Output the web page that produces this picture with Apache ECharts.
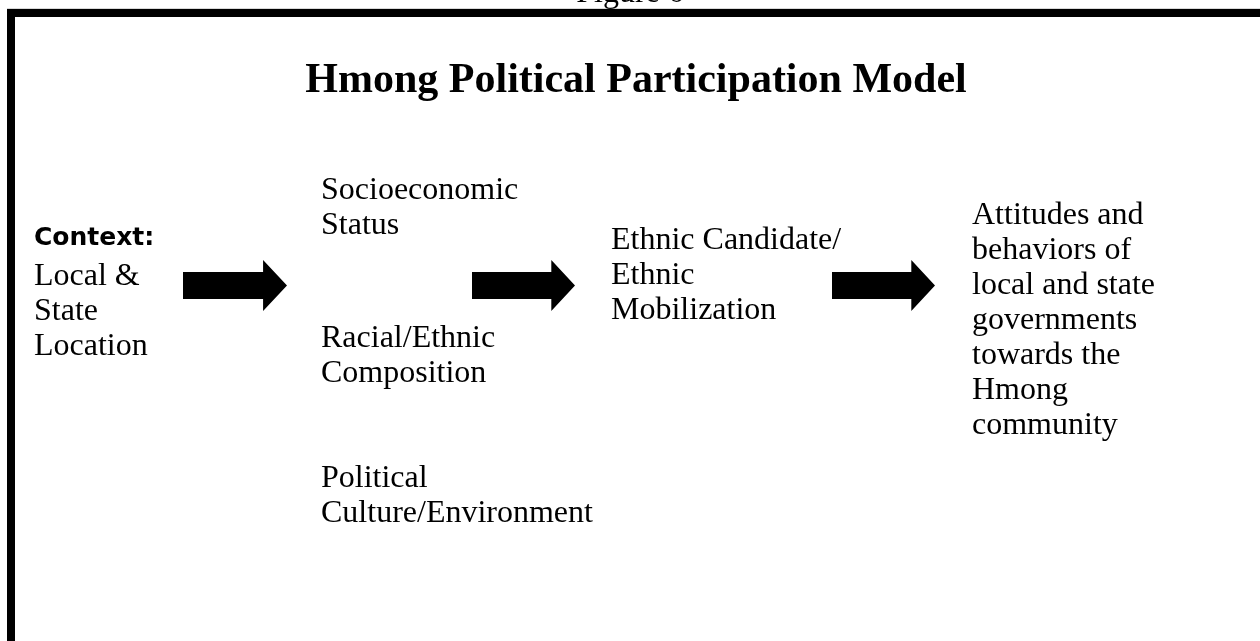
<!DOCTYPE html>
<html>
<head>
<meta charset="utf-8">
<script src="https://cdn.jsdelivr.net/npm/echarts@6/dist/echarts.min.js"></script>
<style>
  html, body { margin: 0; padding: 0; background: #fff; }
  #chart { width: 1260px; height: 641px; }
</style>
</head>
<body>
<div id="chart"></div>
<script>
// text of the diagram
const figureLabel = 'Figure 6';
const titleText = 'Hmong Political Participation Model';
const contextHead = 'Context:';
const contextLines = ['Local &', 'State', 'Location'];
const statusLines = ['Socioeconomic', 'Status'];
const compositionLines = ['Racial/Ethnic', 'Composition'];
const cultureLines = ['Political', 'Culture/Environment'];
const mobilizationLines = ['Ethnic Candidate/', 'Ethnic', 'Mobilization'];
const outcomeLines = ['Attitudes and', 'behaviors of', 'local and state', 'governments', 'towards the', 'Hmong', 'community'];

// arrows: tail and tip along the diagram x scale, centre line on y
const arrowTail = [183, 472, 832];
const arrowTip = [287, 575, 935];
const arrowY = [285.5, 285.5, 285.5];

const blocks = [contextLines, statusLines, compositionLines, cultureLines, mobilizationLines, outcomeLines];
// anchor (left, top) of each text block on the diagram scale
const blockX = [34, 321, 321, 321, 611, 972];
const blockTop = [259, 173, 321, 461, 223, 198];

const serif = '"Liberation Serif", "Times New Roman", serif';

let myChart = echarts.init(document.getElementById('chart'));

function renderArrow(params, api) {
  let a = api.coord([api.value(0), api.value(2)]);
  let b = api.coord([api.value(1), api.value(2)]);
  let neck = a[0] + (b[0] - a[0]) * 0.77;
  let shaft = 13.5, head = 25.5;
  return {
    type: 'polygon',
    shape: {
      points: [
        [a[0], a[1] - shaft], [neck, a[1] - shaft], [neck, a[1] - head],
        [b[0], a[1]],
        [neck, a[1] + head], [neck, a[1] + shaft], [a[0], a[1] + shaft]
      ]
    },
    style: { fill: '#000' }
  };
}

function renderBlock(params, api) {
  let p = api.coord([api.value(0), api.value(1)]);
  let lines = blocks[api.value(2)];
  return {
    type: 'text',
    x: p[0],
    y: p[1],
    style: {
      text: lines.join('\n'),
      fontFamily: serif,
      fontSize: 32,
      lineHeight: 35,
      fill: '#000',
      align: 'left',
      verticalAlign: 'top'
    }
  };
}

myChart.setOption({
  animation: false,
  grid: { left: 0, right: 0, top: 0, bottom: 0 },
  xAxis: { type: 'value', min: 0, max: 1260, show: false },
  yAxis: { type: 'value', min: 0, max: 641, inverse: true, show: false },
  graphic: [
    // frame
    { type: 'rect', shape: { x: 7, y: 9, width: 1253, height: 8 }, style: { fill: '#000' } },
    { type: 'rect', shape: { x: 7, y: 9, width: 8, height: 632 }, style: { fill: '#000' } },
    { type: 'rect', shape: { x: 7, y: 8, width: 1253, height: 1 }, style: { fill: '#d8d8d8' } },
    {
      type: 'text', x: 630, y: 10,
      style: { text: figureLabel, fontFamily: serif, fontSize: 32, lineHeight: 32, fill: '#000', align: 'center', verticalAlign: 'bottom' }
    },
    {
      type: 'text', x: 636, y: 60,
      style: { text: titleText, fontFamily: serif, fontWeight: 'bold', fontSize: 42, lineHeight: 42, fill: '#000', align: 'center', verticalAlign: 'top' }
    },
    {
      type: 'text', x: 34, y: 226,
      style: { text: contextHead, fontFamily: '"DejaVu Sans", Verdana, sans-serif', fontWeight: 'bold', fontSize: 25, lineHeight: 25, fill: '#000', align: 'left', verticalAlign: 'top' }
    }
  ],
  series: [
    {
      type: 'custom',
      renderItem: renderArrow,
      data: arrowTail.map((v, i) => [v, arrowTip[i], arrowY[i]])
    },
    {
      type: 'custom',
      renderItem: renderBlock,
      data: blocks.map((b, i) => [blockX[i], blockTop[i], i])
    }
  ]
});
window.onresize = myChart.resize;
</script>
</body>
</html>
